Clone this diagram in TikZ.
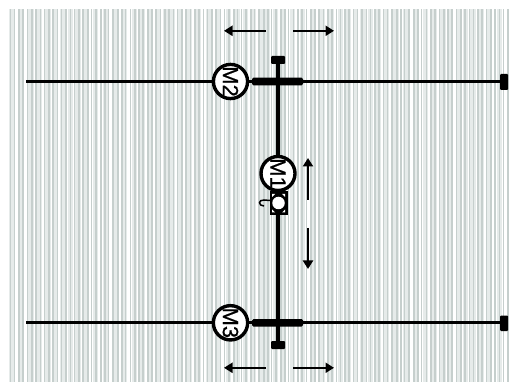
\documentclass[tikz,border=0pt]{standalone}
\usepackage{fontspec}
\setmainfont{Liberation Sans}
\newfontfamily\motorfont{Liberation Sans}[FakeBold=0.6]
\usetikzlibrary{arrows.meta}
\tikzset{
 x=1pt,y=-1pt,
 rail/.style={line width=3.3pt,black},
 upright rail/.style={line width=3.2pt,black},
 motor/.style={circle,draw=black,line width=3.4pt,fill=white,minimum size=33pt,inner sep=0pt,font=\motorfont\fontsize{22}{22}\selectfont,rotate=-90},
 mv/.style={line width=2.3pt,-{Triangle[length=8.5pt,width=10pt]}},
 endcap/.style={fill=black,rounded corners=1pt},
}
\definecolor{st1}{HTML}{C6CFCD}
\definecolor{st2}{HTML}{E6EBEA}
\begin{document}
\begin{tikzpicture}
\useasboundingbox (0,0) rectangle (509,382);
\fill[white] (0,0) rectangle (509,382);
\foreach \i in {0,...,58}{
  \pgfmathsetmacro{\xa}{9+\i*8.58+2.5*sin(\i*31)}
  \fill[st2] (\xa,9) rectangle ++(5.2,373);
}
\foreach \i in {0,...,116}{
  \pgfmathsetmacro{\xa}{9.5+\i*4.29}
  \pgfmathsetmacro{\w}{0.9+1.1*abs(sin(\i*47))}
  \fill[st1] (\xa,9) rectangle ++(\w,373);
}
\node[motor] (m2) at (230.5,81.5) {M2};
\node[motor] (m1) at (278,173.5) {M1};
\node[motor] (m3) at (230.5,322.8) {M3};
\coordinate (l2) at (26,81.5);
\coordinate (r2) at (504,81.5);
\coordinate (l3) at (26,322.8);
\coordinate (r3) at (504,322.8);
\coordinate (tt) at (278,60);
\coordinate (bb) at (278,345);
\draw[rail] (l2) -- (m2);
\draw[rail] (m2) -- (r2);
\draw[rail] (l3) -- (m3);
\draw[rail] (m3) -- (r3);
\draw[upright rail] (tt) -- (m1);
\draw[upright rail] (m1) -- (bb);
\fill[black,rounded corners=1.5pt] (252,77.7) rectangle (303,85.3);
\fill[black,rounded corners=1.5pt] (252,319) rectangle (303,326.6);
\fill[endcap] (271,56) rectangle (285,64);
\fill[endcap] (271,341) rectangle (285,349);
\fill[endcap] (500,74) rectangle (508,90);
\fill[endcap] (500,315.5) rectangle (508,331);
\fill[black] (269.5,191.5) rectangle (287.5,215);
\fill[white] (272,194) -- (275,194) -- (272,197) -- cycle (285,194) -- (282,194) -- (285,197) -- cycle (272,212.5) -- (275,212.5) -- (272,209.5) -- cycle (285,212.5) -- (282,212.5) -- (285,209.5) -- cycle;
\node[circle,fill=white,minimum size=12.5pt,inner sep=0pt] (hk) at (278.5,203) {};
\draw[line width=1.5pt] (270,200.5) -- (264,200) .. controls (258,199.5) and (258,206) .. (264,206);
\draw[mv] (266,30.8) -- (224,30.8);
\draw[mv] (293,30.8) -- (334,30.8);
\draw[mv] (266,367.8) -- (224,367.8);
\draw[mv] (293,367.8) -- (334,367.8);
\draw[mv] (308,200) -- (308,158);
\draw[mv] (308,228) -- (308,269);
\end{tikzpicture}
\end{document}
